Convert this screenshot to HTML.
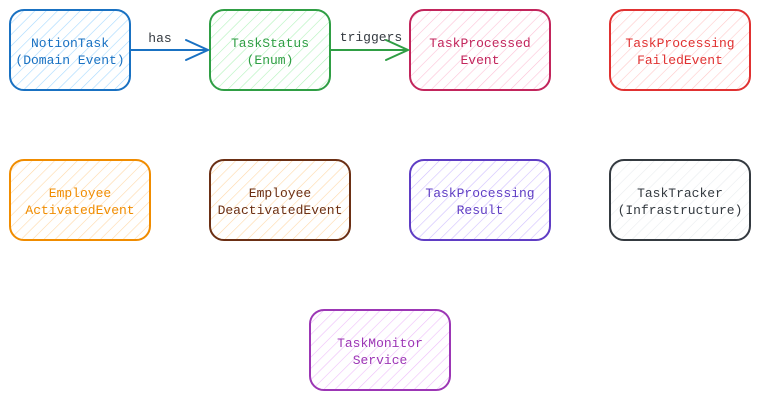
<!DOCTYPE html>
<html><head><meta charset="utf-8"><style>
html,body{margin:0;padding:0;background:#fff;width:760px;height:400px;overflow:hidden}
text{font-family:"Liberation Mono",monospace;font-size:13px;text-anchor:middle}
</style></head><body>
<svg width="760" height="400" viewBox="0 0 760 400" xmlns="http://www.w3.org/2000/svg">
<defs>
<pattern id="pb" patternUnits="userSpaceOnUse" width="8" height="8" patternTransform="rotate(45)"><line x1="0" y1="0" x2="0" y2="8" stroke="#a5d8ff" stroke-width="1.2"/></pattern>
<pattern id="pg" patternUnits="userSpaceOnUse" width="8" height="8" patternTransform="rotate(45)"><line x1="0" y1="0" x2="0" y2="8" stroke="#b2f2bb" stroke-width="1.2"/></pattern>
<pattern id="pp" patternUnits="userSpaceOnUse" width="8" height="8" patternTransform="rotate(45)"><line x1="0" y1="0" x2="0" y2="8" stroke="#fcc2d7" stroke-width="1.2"/></pattern>
<pattern id="pr" patternUnits="userSpaceOnUse" width="8" height="8" patternTransform="rotate(45)"><line x1="0" y1="0" x2="0" y2="8" stroke="#ffc9c9" stroke-width="1.2"/></pattern>
<pattern id="po" patternUnits="userSpaceOnUse" width="8" height="8" patternTransform="rotate(45)"><line x1="0" y1="0" x2="0" y2="8" stroke="#ffd8a8" stroke-width="1.2"/></pattern>
<pattern id="pv" patternUnits="userSpaceOnUse" width="8" height="8" patternTransform="rotate(45)"><line x1="0" y1="0" x2="0" y2="8" stroke="#d0bfff" stroke-width="1.2"/></pattern>
<pattern id="pk" patternUnits="userSpaceOnUse" width="8" height="8" patternTransform="rotate(45)"><line x1="0" y1="0" x2="0" y2="8" stroke="#e9ecef" stroke-width="1.2"/></pattern>
<pattern id="pm" patternUnits="userSpaceOnUse" width="8" height="8" patternTransform="rotate(45)"><line x1="0" y1="0" x2="0" y2="8" stroke="#eebefa" stroke-width="1.2"/></pattern>
</defs>
<g stroke-width="2">
<rect x="10" y="10" width="120" height="80" rx="14" fill="url(#pb)" stroke="#1971c2"/>
<rect x="210" y="10" width="120" height="80" rx="14" fill="url(#pg)" stroke="#2f9e44"/>
<rect x="410" y="10" width="140" height="80" rx="14" fill="url(#pp)" stroke="#c2255c"/>
<rect x="610" y="10" width="140" height="80" rx="14" fill="url(#pr)" stroke="#e03131"/>
<rect x="10" y="160" width="140" height="80" rx="14" fill="url(#po)" stroke="#f08c00"/>
<rect x="210" y="160" width="140" height="80" rx="14" fill="url(#po)" stroke="#6b2f14"/>
<rect x="410" y="160" width="140" height="80" rx="14" fill="url(#pv)" stroke="#5f3dc4"/>
<rect x="610" y="160" width="140" height="80" rx="14" fill="url(#pk)" stroke="#343a40"/>
<rect x="310" y="310" width="140" height="80" rx="14" fill="url(#pm)" stroke="#9c36b5"/>
</g>
<g fill="none" stroke-width="2" stroke-linecap="round">
<path d="M130 50 L208 50 M186 40 L208 50 L186 60" stroke="#1971c2"/>
<path d="M330 50 L408 50 M386 40 L408 50 L386 60" stroke="#2f9e44"/>
</g>
<text x="160" y="42" fill="#343a40" font-size="11">has</text>
<text x="371" y="41" fill="#343a40" font-size="11">triggers</text>
<text x="70" y="47" fill="#1971c2">NotionTask</text><text x="70" y="64" fill="#1971c2">(Domain Event)</text>
<text x="270" y="47" fill="#2f9e44">TaskStatus</text><text x="270" y="64" fill="#2f9e44">(Enum)</text>
<text x="480" y="47" fill="#c2255c">TaskProcessed</text><text x="480" y="64" fill="#c2255c">Event</text>
<text x="680" y="47" fill="#e03131">TaskProcessing</text><text x="680" y="64" fill="#e03131">FailedEvent</text>
<text x="80" y="197" fill="#f08c00">Employee</text><text x="80" y="214" fill="#f08c00">ActivatedEvent</text>
<text x="280" y="197" fill="#6b2f14">Employee</text><text x="280" y="214" fill="#6b2f14">DeactivatedEvent</text>
<text x="480" y="197" fill="#5f3dc4">TaskProcessing</text><text x="480" y="214" fill="#5f3dc4">Result</text>
<text x="680" y="197" fill="#343a40">TaskTracker</text><text x="680" y="214" fill="#343a40">(Infrastructure)</text>
<text x="380" y="347" fill="#9c36b5">TaskMonitor</text><text x="380" y="364" fill="#9c36b5">Service</text>
</svg>
</body></html>
